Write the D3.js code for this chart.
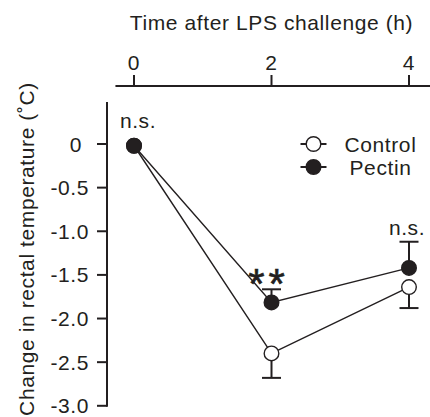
<!DOCTYPE html>
<html>
<head>
<meta charset="utf-8">
<script src="https://cdn.jsdelivr.net/npm/d3@7"></script>
<style>
  body { margin: 0; background: #fff; }
  svg text { font-family: "Liberation Sans", Arial, Helvetica, sans-serif; fill: #231f20; letter-spacing: 0.6px; }
</style>
</head>
<body>
<svg id="chart" width="430" height="417"></svg>
<script>
// hours after LPS challenge
var times = [0, 2, 4];
var xTicks = [0, 2, 4];
var yTicks = [0, -0.5, -1.0, -1.5, -2.0, -2.5, -3.0];

// change in rectal temperature, mean and one-sided error
var controlMean = [-0.02, -2.40, -1.64];
var controlErr = [0, 0.28, 0.24];
var pectinMean = [-0.02, -1.815, -1.42];
var pectinErr = [0, 0.15, 0.30];

// significance labels per time point
var sigLabels = ["n.s.", "**", "n.s."];

var ink = "#231f20";
var fs = 21;
var svg = d3.select("#chart");

var x = d3.scaleLinear().domain([0, 4]).range([134, 409]);
var y = d3.scaleLinear().domain([0, -3]).range([144, 405.8]);

/*
 * Top axis: line with ticks pointing up, labels above
 */
var topAxis = svg.append("g").attr("class", "x-axis");
topAxis.append("line")
    .attr("x1", x(-0.27)).attr("x2", 432)
    .attr("y1", 86).attr("y2", 86)
    .attr("stroke", ink).attr("stroke-width", 2);

topAxis.selectAll(".tick")
    .data(xTicks)
  .enter().append("line")
    .attr("class", "tick")
    .attr("x1", function(d) { return x(d); })
    .attr("x2", function(d) { return x(d); })
    .attr("y1", 86).attr("y2", 75)
    .attr("stroke", ink).attr("stroke-width", 2);

topAxis.selectAll(".tick-label")
    .data(xTicks)
  .enter().append("text")
    .attr("class", "tick-label")
    .attr("x", function(d) { return x(d); })
    .attr("y", 70)
    .attr("text-anchor", "middle")
    .attr("font-size", fs)
    .text(function(d) { return d; });

svg.append("text")
    .attr("x", x(2))
    .attr("y", 30)
    .attr("text-anchor", "middle")
    .attr("font-size", fs)
    .text("Time after LPS challenge (h)");

/*
 * Left axis
 */
var leftAxis = svg.append("g").attr("class", "y-axis");
leftAxis.append("line")
    .attr("x1", 107).attr("x2", 107)
    .attr("y1", y(0.48)).attr("y2", y(-3) + 1)
    .attr("stroke", ink).attr("stroke-width", 2);

leftAxis.selectAll(".tick")
    .data(yTicks)
  .enter().append("line")
    .attr("class", "tick")
    .attr("x1", 97).attr("x2", 107)
    .attr("y1", function(d) { return y(d); })
    .attr("y2", function(d) { return y(d); })
    .attr("stroke", ink).attr("stroke-width", 2);

leftAxis.selectAll(".tick-label")
    .data(yTicks)
  .enter().append("text")
    .attr("class", "tick-label")
    .attr("x", function(d) { return d === 0 ? 82 : 89; })
    .attr("y", function(d) { return y(d); })
    .attr("dy", "0.36em")
    .attr("text-anchor", "end")
    .attr("font-size", fs)
    .text(function(d) { return d === 0 ? "0" : d.toFixed(1); });

svg.append("text")
    .attr("transform", "translate(34," + 249 + ") rotate(-90)")
    .attr("text-anchor", "middle")
    .attr("font-size", fs)
    .text("Change in rectal temperature (\u02daC)");

/*
 * Series: lines, error bars, markers
 */
var series = [
    { name: "Control", mean: controlMean, err: controlErr, dir: -1, fill: "#fff" },
    { name: "Pectin", mean: pectinMean, err: pectinErr, dir: 1, fill: ink }
];

var line = d3.line()
    .x(function(d) { return x(d.t); })
    .y(function(d) { return y(d.v); });

function points(s) {
    return times.map(function(t, i) {
        return { t: t, v: s.mean[i], e: s.err[i], dir: s.dir };
    });
}

series.forEach(function(s) {
    svg.append("path")
        .datum(points(s))
        .attr("d", line)
        .attr("fill", "none")
        .attr("stroke", ink)
        .attr("stroke-width", 1.4);
});

series.forEach(function(s) {
    var bars = svg.append("g").selectAll("g")
        .data(points(s).filter(function(d) { return d.e > 0; }))
      .enter().append("g");

    bars.append("line")
        .attr("x1", function(d) { return x(d.t); })
        .attr("x2", function(d) { return x(d.t); })
        .attr("y1", function(d) { return y(d.v); })
        .attr("y2", function(d) { return y(d.v + d.dir * d.e); })
        .attr("stroke", ink).attr("stroke-width", 2);

    bars.append("line")
        .attr("x1", function(d) { return x(d.t) - 9.5; })
        .attr("x2", function(d) { return x(d.t) + 9.5; })
        .attr("y1", function(d) { return y(d.v + d.dir * d.e); })
        .attr("y2", function(d) { return y(d.v + d.dir * d.e); })
        .attr("stroke", ink).attr("stroke-width", 2);
});

series.forEach(function(s) {
    svg.append("g").selectAll("circle")
        .data(points(s))
      .enter().append("circle")
        .attr("cx", function(d) { return x(d.t); })
        .attr("cy", function(d) { return y(d.v); })
        .attr("r", 7.3)
        .attr("fill", s.fill)
        .attr("stroke", ink)
        .attr("stroke-width", 1.4);
});

/*
 * Significance marks
 */
svg.append("text")
    .attr("x", x(times[0]) + 4).attr("y", 128)
    .attr("text-anchor", "middle").attr("font-size", fs)
    .text(sigLabels[0]);

svg.append("text")
    .attr("x", x(times[1]) - 3).attr("y", 298)
    .attr("text-anchor", "middle").attr("font-size", 42)
    .attr("stroke", ink).attr("stroke-width", 0.6)
    .style("letter-spacing", "4px")
    .text(sigLabels[1]);

svg.append("text")
    .attr("x", x(times[2]) - 2).attr("y", 235)
    .attr("text-anchor", "middle").attr("font-size", fs)
    .text(sigLabels[2]);

/*
 * Legend
 */
var legend = svg.append("g").attr("class", "legend")
    .selectAll("g")
    .data(series)
  .enter().append("g")
    .attr("transform", function(d, i) {
        return "translate(313.5," + (144 + i * 23) + ")";
    });

legend.append("line")
    .attr("x1", -13).attr("x2", 13)
    .attr("stroke", ink).attr("stroke-width", 2);

legend.append("circle")
    .attr("r", 7.3)
    .attr("fill", function(d) { return d.fill; })
    .attr("stroke", ink)
    .attr("stroke-width", 1.4);

legend.append("text")
    .attr("x", function(d, i) { return i === 0 ? 31 : 36; })
    .attr("dy", "0.36em")
    .attr("font-size", fs)
    .text(function(d) { return d.name; });
</script>
</body>
</html>
